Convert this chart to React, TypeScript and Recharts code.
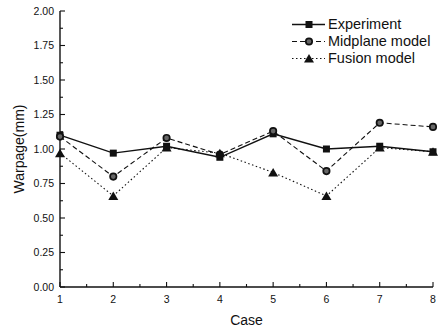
import React from 'react'
import {
  LineChart, Line, XAxis, YAxis,
} from 'recharts'

const cases = [1, 2, 3, 4, 5, 6, 7, 8]
const experiment = [1.1, 0.97, 1.02, 0.94, 1.11, 1.0, 1.02, 0.98]
const midplane = [1.09, 0.8, 1.08, 0.96, 1.13, 0.84, 1.19, 1.16]
const fusion = [0.97, 0.66, 1.01, 0.97, 0.83, 0.66, 1.01, 0.98]
const yMajor = [0, 0.25, 0.5, 0.75, 1.0, 1.25, 1.5, 1.75, 2.0]
const xMajor = [1, 2, 3, 4, 5, 6, 7, 8]

const FONT = "Arial, 'Liberation Sans', sans-serif"
const INK = '#111'

const data = cases.map((c, i) => ({
  case: c, experiment: experiment[i], midplane: midplane[i], fusion: fusion[i],
}))

// minor ticks half way between the labelled ones
const yTicks = yMajor.flatMap((v, i) => (i < yMajor.length - 1 ? [v, v + 0.125] : [v]))
const xTicks = xMajor.flatMap((v, i) => (i < xMajor.length - 1 ? [v, v + 0.5] : [v]))

const Square = ({ cx, cy }: any) => <rect x={cx - 3.5} y={cy - 3.5} width={7} height={7} fill={INK} />
const Circle = ({ cx, cy }: any) => <circle cx={cx} cy={cy} r={3.2} fill="#666" stroke={INK} strokeWidth={1.7} />
const Triangle = ({ cx, cy }: any) => (
  <path d={`M${cx},${cy - 4.5} L${cx + 5},${cy + 4} L${cx - 5},${cy + 4} Z`} fill={INK} />
)

const series = [
  { key: 'experiment', name: 'Experiment', dash: undefined, width: 1.4, Marker: Square },
  { key: 'midplane', name: 'Midplane model', dash: '5 3', width: 1.1, Marker: Circle },
  { key: 'fusion', name: 'Fusion model', dash: '1.5 2.5', width: 1.1, Marker: Triangle },
]

function YTick({ x, y, payload }: any) {
  const major = yMajor.includes(payload.value)
  return (
    <g>
      <line x1={x} x2={x + (major ? 5 : 3)} y1={y} y2={y} stroke={INK} strokeWidth={1.1} />
      {major && (
        <text x={x - 6} y={y + 3.6} textAnchor="end" fontSize={10.5} fontFamily={FONT} fill={INK}>
          {payload.value.toFixed(2)}
        </text>
      )}
    </g>
  )
}

function XTick({ x, y, payload }: any) {
  const major = xMajor.includes(payload.value)
  return (
    <g>
      <line x1={x} x2={x} y1={y} y2={y - (major ? 5 : 3)} stroke={INK} strokeWidth={1.1} />
      {major && (
        <text x={x} y={y + 16} textAnchor="middle" fontSize={10.5} fontFamily={FONT} fill={INK}>
          {payload.value}
        </text>
      )}
    </g>
  )
}

function LegendBox() {
  return (
    <div style={{ position: 'absolute', top: 15.5, left: 291, fontFamily: FONT, fontSize: 14.5, color: INK }}>
      {series.map(({ key, name, dash, width, Marker }) => (
        <div key={key} style={{ display: 'flex', alignItems: 'center', height: 17 }}>
          <svg width={36} height={17}>
            <line x1={1} x2={34} y1={8.5} y2={8.5} stroke={INK} strokeWidth={width} strokeDasharray={dash} />
            <Marker cx={18} cy={8.5} />
          </svg>
          <span style={{ marginLeft: 1, lineHeight: '17px', whiteSpace: 'nowrap' }}>{name}</span>
        </div>
      ))}
    </div>
  )
}

export default function App() {
  return (
    <div style={{ position: 'absolute', left: 0, top: 0, width: 439, height: 331, background: '#fff' }}>
      <LineChart width={439} height={331} data={data} margin={{ top: 11, right: 6, left: 0, bottom: 0 }}>
        <XAxis
          dataKey="case" type="number" domain={[1, 8]} ticks={xTicks} interval={0}
          height={44} tickSize={0} tickMargin={0} tickLine={false} tick={<XTick />}
          axisLine={{ stroke: INK, strokeWidth: 1.4 }}
          label={{
            content: ({ viewBox }: any) => (
              <text x={viewBox.x + viewBox.width / 2} y={viewBox.y + 38} textAnchor="middle"
                fontSize={14} fontFamily={FONT} fill={INK}>Case</text>
            ),
          }}
        />
        <XAxis xAxisId="top" orientation="top" type="number" domain={[1, 8]} height={0}
          tick={false} tickLine={false} axisLine={{ stroke: INK, strokeWidth: 1.4 }} />
        <YAxis
          type="number" domain={[0, 2]} ticks={yTicks} interval={0} width={60}
          tickSize={0} tickMargin={0} tickLine={false} tick={<YTick />}
          axisLine={{ stroke: INK, strokeWidth: 1.4 }}
          label={{
            content: ({ viewBox }: any) => {
              const cx = viewBox.x + 19
              const cy = viewBox.y + viewBox.height / 2
              return (
                <text x={cx} y={cy} transform={`rotate(-90 ${cx} ${cy})`} textAnchor="middle"
                  dominantBaseline="central" fontSize={14} fontFamily={FONT} fill={INK}>Warpage(mm)</text>
              )
            },
          }}
        />
        <YAxis yAxisId="right" orientation="right" type="number" domain={[0, 2]} width={0}
          tick={false} tickLine={false} axisLine={{ stroke: INK, strokeWidth: 1.4 }} />
        {series.map(({ key, name, dash, width, Marker }) => (
          <Line
            key={key} dataKey={key} name={name} stroke={INK} strokeWidth={width}
            strokeDasharray={dash} isAnimationActive={false}
            dot={(p: any) => <Marker key={`${key}-${p.index}`} cx={p.cx} cy={p.cy} />}
            activeDot={false}
          />
        ))}
      </LineChart>
      <LegendBox />
    </div>
  )
}
